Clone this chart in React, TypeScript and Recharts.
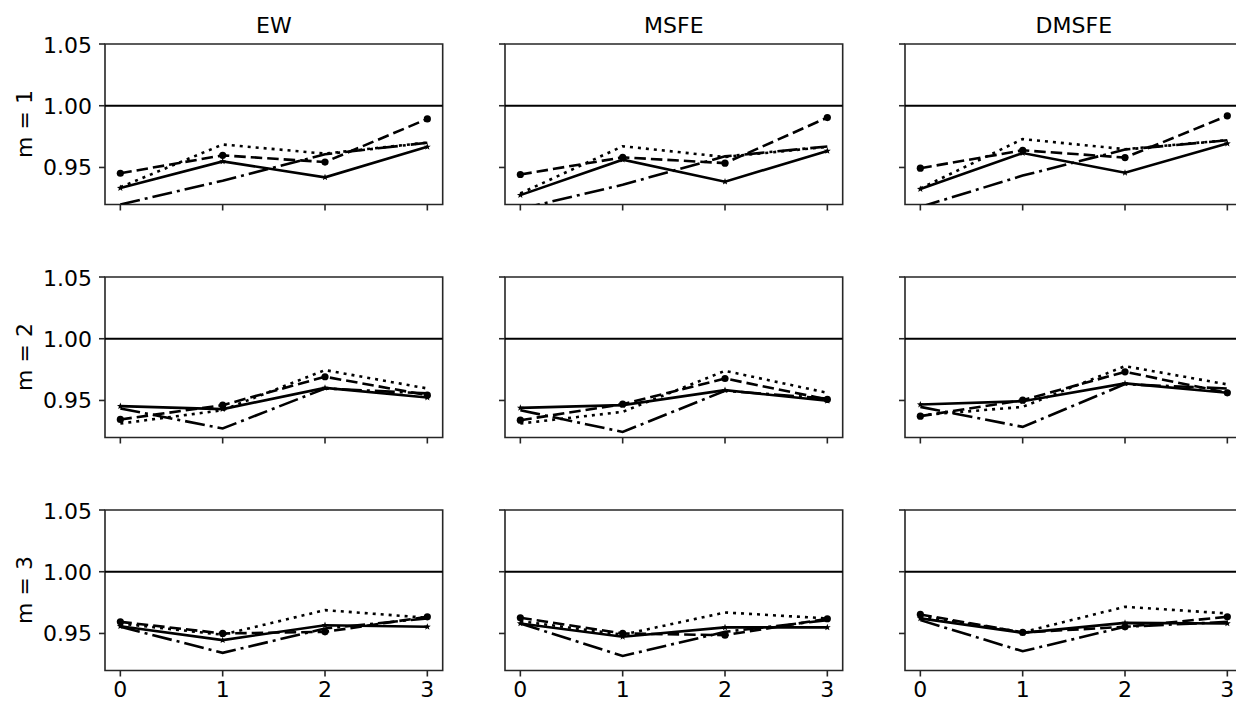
import React from 'react';
import { LineChart, Line, XAxis, YAxis, ReferenceLine, ReferenceArea } from 'recharts';

const horizons = [0, 1, 2, 3];
const methods = ['EW', 'MSFE', 'DMSFE'];
const mLabels = ['m = 1', 'm = 2', 'm = 3'];
const yTicks = [0.95, 1.0, 1.05];

// each array is [row m][column method] -> values at horizons 0..3
const solidSeries = [
  [[0.9333, 0.9549, 0.942, 0.9667], [0.9276, 0.9563, 0.9385, 0.9634], [0.9325, 0.9617, 0.9457, 0.9694]],
  [[0.9454, 0.943, 0.9602, 0.9524], [0.944, 0.9462, 0.9584, 0.9497], [0.9467, 0.9494, 0.9638, 0.9562]],
  [[0.9559, 0.9446, 0.9567, 0.9554], [0.9581, 0.9473, 0.9549, 0.9549], [0.9622, 0.9505, 0.9586, 0.9581]],
];
const dashedSeries = [
  [[0.9453, 0.9598, 0.9544, 0.9893], [0.9443, 0.9582, 0.9535, 0.9904], [0.9494, 0.9639, 0.958, 0.9918]],
  [[0.9346, 0.9462, 0.9692, 0.9543], [0.934, 0.947, 0.9678, 0.9508], [0.9373, 0.9502, 0.9732, 0.9562]],
  [[0.9594, 0.95, 0.9513, 0.9635], [0.9627, 0.95, 0.9486, 0.9619], [0.9654, 0.9508, 0.9554, 0.9635]],
];
const dottedSeries = [
  [[0.934, 0.9686, 0.9612, 0.9702], [0.929, 0.9672, 0.9585, 0.9667], [0.933, 0.973, 0.9648, 0.9721]],
  [[0.9313, 0.9421, 0.9746, 0.9597], [0.9313, 0.9408, 0.974, 0.9562], [0.938, 0.9448, 0.9778, 0.963]],
  [[0.958, 0.949, 0.9689, 0.9627], [0.96, 0.949, 0.967, 0.9622], [0.964, 0.951, 0.9716, 0.9662]],
];
const dashDotSeries = [
  [[0.92, 0.9393, 0.9607, 0.97], [0.9164, 0.936, 0.959, 0.967], [0.918, 0.9434, 0.9645, 0.972]],
  [[0.9435, 0.9273, 0.9597, 0.9557], [0.9421, 0.9245, 0.9578, 0.9516], [0.9448, 0.9286, 0.9632, 0.9597]],
  [[0.9554, 0.9343, 0.954, 0.9622], [0.958, 0.9318, 0.9513, 0.9608], [0.9608, 0.9356, 0.9554, 0.9594]],
];

const COL_LEFT = [105, 505, 905];
const ROW_TOP = [44, 276.8, 509.6];
const PW = 337.7;
const PH = 160.5;
const AXW = 100;
const MT = 12;
const MR = 12;
const XAH = 40;
const FONT = '"DejaVu Sans", sans-serif';
const FS = 22;

const StarDot = (props: any) => {
  const { cx, cy, key } = props;
  if (cx == null || cy == null) return null;
  const pts: string[] = [];
  for (let i = 0; i < 10; i++) {
    const r = i % 2 === 0 ? 3.6 : 1.5;
    const a = -Math.PI / 2 + (i * Math.PI) / 5;
    pts.push(`${cx + r * Math.cos(a)},${cy + r * Math.sin(a)}`);
  }
  return <polygon key={key} points={pts.join(' ')} fill="#000" />;
};

const Panel = ({ r, c }: { r: number; c: number }) => {
  const data = horizons.map((h, i) => ({
    h,
    solid: solidSeries[r][c][i],
    dashed: dashedSeries[r][c][i],
    dotted: dottedSeries[r][c][i],
    dashdot: dashDotSeries[r][c][i],
  }));
  const tickStyle = { fill: '#000', fontSize: FS, fontFamily: FONT };
  return (
    <div style={{ position: 'absolute', left: COL_LEFT[c] - AXW, top: ROW_TOP[r] - MT }}>
      <LineChart width={AXW + PW + MR} height={MT + PH + XAH} data={data} margin={{ top: MT, right: MR, left: 0, bottom: 0 }}>
        <XAxis
          dataKey="h"
          type="number"
          domain={[-0.15, 3.15]}
          ticks={horizons}
          allowDataOverflow
          axisLine={false}
          tickLine={{ stroke: '#262626', strokeWidth: 1.6 }}
          tickSize={6}
          tickMargin={5}
          height={XAH}
          tick={tickStyle}
          tickFormatter={(v: number) => (r === 2 ? String(v) : '')}
        />
        <YAxis
          type="number"
          domain={[0.92, 1.05]}
          ticks={yTicks}
          allowDataOverflow
          width={AXW}
          axisLine={false}
          tickLine={{ stroke: '#262626', strokeWidth: 1.6 }}
          tickSize={6}
          tickMargin={7}
          tick={tickStyle}
          tickFormatter={(v: number) => (c === 0 ? v.toFixed(2) : '')}
        />
        <ReferenceLine y={1} stroke="#000" strokeWidth={2.1} />
        <Line type="linear" dataKey="solid" stroke="#000" strokeWidth={2.6} dot={StarDot} isAnimationActive={false} />
        <Line type="linear" dataKey="dashed" stroke="#000" strokeWidth={2.6} strokeDasharray="11.5 5" dot={{ r: 3.6, fill: '#000', stroke: 'none' }} isAnimationActive={false} />
        <Line type="linear" dataKey="dotted" stroke="#000" strokeWidth={2.6} strokeDasharray="3 5" dot={false} isAnimationActive={false} />
        <Line type="linear" dataKey="dashdot" stroke="#000" strokeWidth={2.6} strokeDasharray="20 5 3 5" dot={false} isAnimationActive={false} />
        <ReferenceArea x1={-0.15} x2={3.15} y1={0.92} y2={1.05} fill="none" stroke="#262626" strokeWidth={1.6} fillOpacity={0} />
      </LineChart>
    </div>
  );
};

export default function App() {
  return (
    <div style={{ position: 'absolute', left: 0, top: 0, width: 1236, height: 701, overflow: 'hidden', background: '#fff', fontFamily: FONT }}>
      {mLabels.map((_, r) => methods.map((__, c) => <Panel key={`${r}-${c}`} r={r} c={c} />))}
      {methods.map((m, c) => (
        <div key={m} style={{ position: 'absolute', left: COL_LEFT[c], top: 12.5, width: PW, textAlign: 'center', fontSize: FS, lineHeight: '26px', color: '#000' }}>
          {m}
        </div>
      ))}
      {mLabels.map((lab, r) => (
        <div
          key={lab}
          style={{
            position: 'absolute',
            left: 25 - 80,
            top: ROW_TOP[r] + PH / 2 - 13,
            width: 160,
            height: 26,
            lineHeight: '26px',
            textAlign: 'center',
            fontSize: FS,
            color: '#000',
            transform: 'rotate(-90deg)',
          }}
        >
          {lab}
        </div>
      ))}
    </div>
  );
}
